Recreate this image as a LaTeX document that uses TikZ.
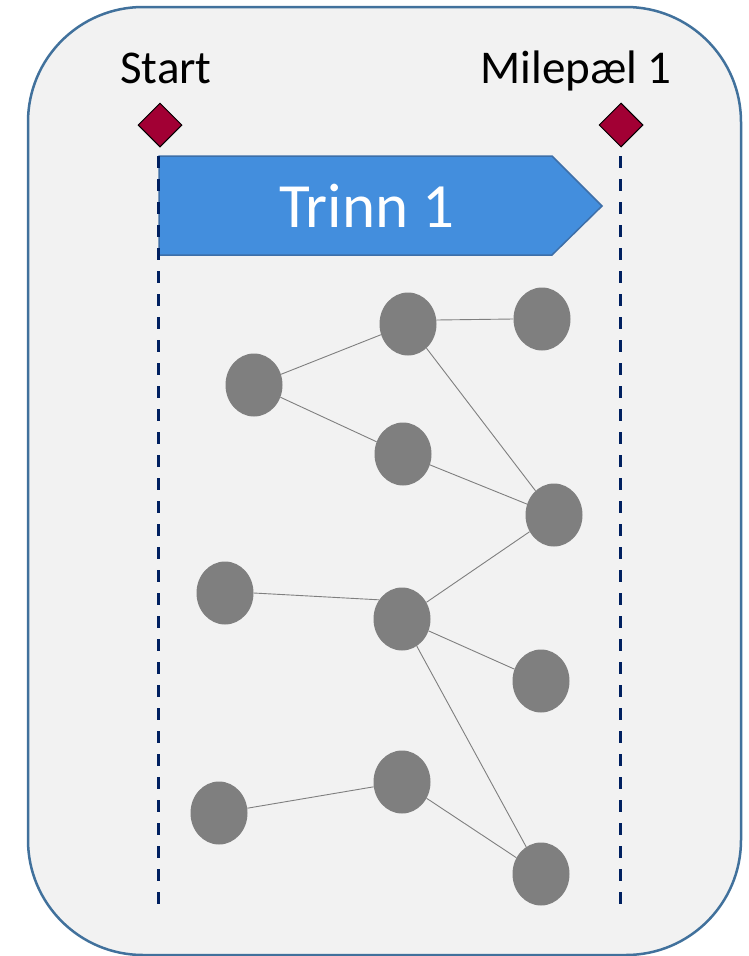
\documentclass[tikz,border=0pt]{standalone}
\usepackage{fontspec}
\setmainfont{Carlito}
\usetikzlibrary{shapes.geometric}
\usetikzlibrary{positioning}

\definecolor{panelfill}{RGB}{242,242,242}
\definecolor{paneledge}{RGB}{65,113,156}
\definecolor{stepblue}{RGB}{67,142,221}
\definecolor{stepedge}{RGB}{62,111,168}
\definecolor{milered}{RGB}{162,0,52}
\definecolor{guidenavy}{RGB}{0,32,96}
\definecolor{taskgray}{RGB}{127,127,127}

\begin{document}
\begin{tikzpicture}[
	x=1pt, y=-1pt,
  task/.style = {ellipse,fill=taskgray,minimum width=57pt,minimum height=63pt,inner sep=0pt},
  link/.style = {draw=taskgray,line width=0.9pt},
  mile/.style = {diamond,draw=black,line width=1pt,fill=milered,minimum width=44pt,minimum height=44pt,inner sep=0pt},
  guide/.style = {draw=guidenavy,line width=3pt,dash pattern=on 12pt off 11pt},
  tag/.style = {font=\fontsize{47}{56}\selectfont,anchor=base}
  ]
	\useasboundingbox (0,0) rectangle (749,956);
	\draw[fill=panelfill,draw=paneledge,line width=2.5pt,rounded corners=115pt] (28,7) rectangle (741,955);

	\coordinate (@s1) at (159,156);
	\coordinate (@s2) at (552,156);
	\coordinate (@s3) at (602,206);
	\coordinate (@s4) at (552,255);
	\coordinate (@s5) at (159,255);

	\draw[fill=stepblue,draw=stepedge,line width=1.5pt] (@s1) -- (@s2) -- (@s3) -- (@s4) -- (@s5) -- cycle;
	\node[tag,text=white,font=\fontsize{63}{72}\selectfont] (trinn) at (367,227) {Trinn 1};

	\coordinate (@gs1) at (158,156);
	\coordinate (@gs2) at (158,905);
	\coordinate (@gm1) at (620,156);
	\coordinate (@gm2) at (620,905);
	\draw[guide] (@gs1) -- (@gs2);
	\draw[guide] (@gm1) -- (@gm2);

	\node[mile] (start) at (160,125) {};
	\node[mile] (mile1) at (621,125) {};
	\node[tag] (starttxt) at (166,83) {Start};
	\node[tag] (miletxt) at (576,83) {Milepæl 1};

	\node[task] (@1) at (254,385) {};
	\node[task] (@2) at (408,324) {};
	\node[task] (@3) at (542,319) {};
	\node[task] (@4) at (403,454) {};
	\node[task] (@5) at (554,515) {};
	\node[task] (@6) at (225,593) {};
	\node[task] (@7) at (402,619) {};
	\node[task] (@8) at (541,681) {};
	\node[task] (@9) at (402,782) {};
	\node[task] (@10) at (219,813) {};
	\node[task] (@11) at (541,874) {};

	\draw[link] (@1) -- (@2);
	\draw[link] (@1) -- (@4);
	\draw[link] (@2.8) -- (@3.west);
	\draw[link] (@2) -- (@5);
	\draw[link] (@4) -- (@5);
	\draw[link] (@7) -- (@5);
	\draw[link] (@6.east) -- (@7.140);
	\draw[link] (@7) -- (@8);
	\draw[link] (@7) -- (@11);
	\draw[link] (@10) -- (@9);
	\draw[link] (@9) -- (@11);

\end{tikzpicture}
\end{document}
